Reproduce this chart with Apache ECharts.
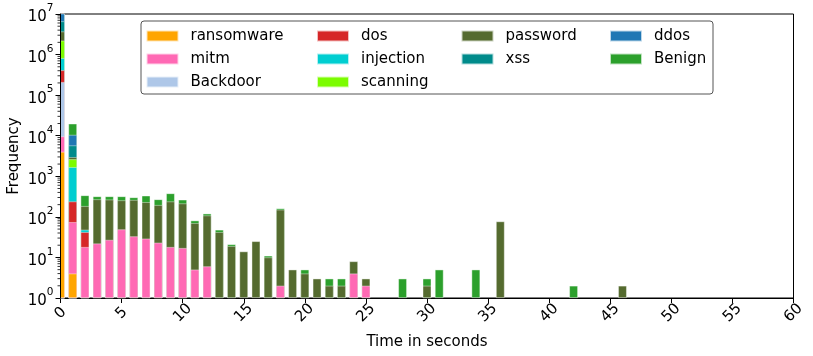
<!DOCTYPE html>
<html>
<head>
<meta charset="utf-8">
<script src="https://cdn.jsdelivr.net/npm/echarts@6/dist/echarts.min.js"></script>
<style>html,body{margin:0;padding:0;background:#fff}#c{width:813px;height:356px}</style>
</head>
<body>
<div id="c"></div>
<script>
// Time bins (seconds)
const bins = [0,1,2,3,4,5,6,7,8,9,10,11,12,13,14,15,16,17,18,19,20,21,22,23,24,25,26,27,28,29,30,31,32,33,34,35,36,37,38,39,40,41,42,43,44,45,46];
const categories = ['ransomware','mitm','Backdoor','dos','injection','scanning','password','xss','ddos','Benign'];
const colors = ['#ffa500','#ff69b4','#aec7e8','#d62728','#00ced1','#7cfc00','#556b2f','#008b8b','#1f77b4','#2ca02c'];
// Counts per bin (index = bin), trailing bins are zero
const ransomware = [4000,4];
const mitm = [5600,70,18,22,27,49,33,29,23,18,17,5,6,0,0,0,0,0,2,0,0,0,0,0,4,2];
const backdoor = [200000];
const dos = [200000,165,24];
const injection = [410000,1440,6];
const scanning = [1380000,940];
const password = [1500000,340,136,248,239,206,227,201,172,221,197,65,102,42,19,14,25,10,148,5,4,3,2,2,4,1,0,0,0,0,2,0,0,0,0,0,77,0,0,0,0,0,0,0,0,0,2];
const xss = [2900000,2800];
const ddos = [6000000,4700];
const benign = [1000000,9300,155,50,54,65,42,102,75,140,50,11,12,6,2,0,0,1,12,0,1,0,1,1,0,0,0,0,3,0,1,5,0,0,5,0,0,0,0,0,0,0,2];
const seriesValues = [ransomware,mitm,backdoor,dos,injection,scanning,password,xss,ddos,benign];
const xTicks = [0,5,10,15,20,25,30,35,40,45,50,55,60];
const yExponents = [0,1,2,3,4,5,6,7];

const FONT = 'DejaVu Sans';
const chart = echarts.init(document.getElementById('c'), null, {renderer:'canvas'});

// ECharts does not stack on a log axis, so stacked tops are accumulated here and
// the bars overlap (upper categories drawn behind lower ones).
const running = bins.map(() => 0);
const barSeries = categories.map((name, k) => {
  const data = bins.map((b, i) => {
    const v = seriesValues[k][i] || 0;
    running[i] += v;
    return [b, v > 0 ? running[i] : null];
  });
  return {
    name: name,
    type: 'bar',
    barWidth: 8.6,
    barGap: '-100%',
    clip: true,
    z: 2 + (categories.length - k) * 0.01,
    itemStyle: {color: colors[k], borderColor: 'rgba(255,255,255,0.7)', borderWidth: 0.6},
    data: data
  };
});

// minor tick values for log axis (2..9 x 10^n)
const minorVals = [];
for (let e = 0; e < 7; e++) for (let m = 2; m <= 9; m++) minorVals.push(m * Math.pow(10, e));

const minorTickSeries = {
  type: 'custom',
  silent: true,
  clip: false,
  data: minorVals.map(v => [0, v]),
  renderItem: function (params, api) {
    const p = api.coord([0, api.value(1)]);
    return {type:'line', shape:{x1:p[0]-3, y1:p[1], x2:p[0], y2:p[1]}, style:{stroke:'#000', lineWidth:0.8}};
  },
  z: 10
};

const legendCols = [
  {left: 145.5, data: ['ransomware','mitm','Backdoor']},
  {left: 316, data: ['dos','injection','scanning']},
  {left: 460.5, data: ['password','xss']},
  {left: 609, data: ['ddos','Benign']}
];

const option = {
  animation: false,
  backgroundColor: '#fff',
  textStyle: {fontFamily: FONT},
  grid: {left: 60.5, right: 19.5, top: 14, bottom: 58, show: true, borderColor: '#000', borderWidth: 1, backgroundColor: 'transparent', containLabel: false, outerBoundsMode: 'none'},
  graphic: [{
    type: 'rect', z: 3,
    shape: {x: 141, y: 21, width: 572, height: 73, r: 3},
    style: {fill: 'rgba(255,255,255,0.8)', stroke: '#555', lineWidth: 1}
  }, {
    // mask for the part of the first bar that falls left of x = 0 (outside the plot)
    type: 'rect', z: 5, silent: true,
    shape: {x: 50, y: 5, width: 10, height: 300},
    style: {fill: '#fff'}
  }],
  legend: legendCols.map(c => ({
    orient: 'vertical', left: c.left, top: 28.5, data: c.data, padding: 0,
    itemWidth: 32, itemHeight: 11, itemGap: 8, icon: 'rect',
    selectedMode: false,
    textStyle: {fontFamily: FONT, fontSize: 15, color: '#000', lineHeight: 15, padding: [0,0,0,7]}
  })),
  xAxis: {
    type: 'value', min: 0, max: 60, interval: 5,
    name: 'Time in seconds', nameLocation: 'middle', nameGap: 36.5, nameMoveOverlap: false,
    nameTextStyle: {fontFamily: FONT, fontSize: 15, color: '#000'},
    axisLine: {show: true, lineStyle: {color: '#000', width: 1}},
    axisTick: {show: true, length: 5, lineStyle: {color: '#000', width: 1}},
    splitLine: {show: false},
    axisLabel: {
      rotate: 45, margin: 15, align: 'center', verticalAlign: 'middle',
      fontFamily: FONT, fontSize: 15, color: '#000',
      formatter: v => xTicks.includes(v) ? String(v) : ''
    }
  },
  yAxis: {
    type: 'log', logBase: 10, min: 1, max: 1e7, splitNumber: 7, z: 6,
    name: 'Frequency', nameLocation: 'middle', nameGap: 38.5, nameMoveOverlap: false,
    nameTextStyle: {fontFamily: FONT, fontSize: 15, color: '#000'},
    axisLine: {show: true, lineStyle: {color: '#000', width: 1}},
    axisTick: {show: true, length: 5, lineStyle: {color: '#000', width: 1}},
    splitLine: {show: false},
    axisLabel: {
      margin: 7, color: '#000',
      formatter: function (v) {
        const e = Math.round(Math.log10(v));
        return yExponents.includes(e) ? '{b|10}{s|' + e + '}' : '';
      },
      rich: {
        b: {fontFamily: FONT, fontSize: 15, color: '#000', lineHeight: 22, verticalAlign: 'bottom'},
        s: {fontFamily: FONT, fontSize: 10.5, color: '#000', lineHeight: 12, verticalAlign: 'top'}
      }
    }
  },
  series: barSeries.concat([minorTickSeries])
};
chart.setOption(option);
</script>
</body>
</html>
